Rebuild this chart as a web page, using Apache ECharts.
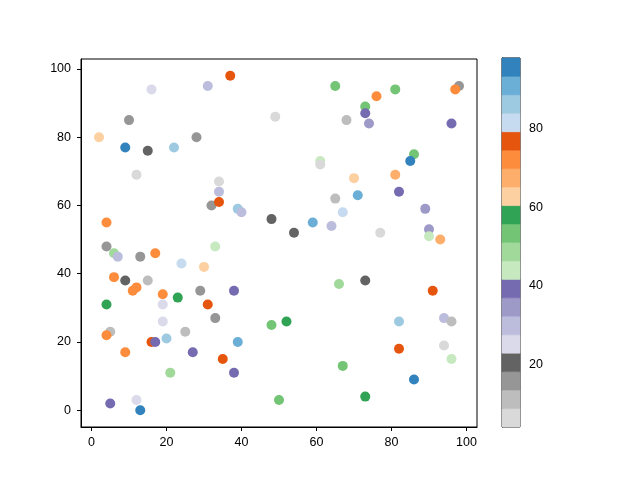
<!DOCTYPE html>
<html>
<head>
<meta charset="utf-8">
<script src="https://cdn.jsdelivr.net/npm/echarts@6/dist/echarts.min.js"></script>
<style>
  html, body { margin: 0; padding: 0; background: #fff; }
  #chart { width: 640px; height: 480px; }
</style>
</head>
<body>
<div id="chart"></div>
<script>
// scatter data: x, y, colour value
const xs = [16, 31, 10, 2, 28, 9, 15, 22, 12, 4, 32, 37, 65, 49, 68, 61, 61, 34, 34, 34,
  39, 40, 48, 54, 59, 64, 67, 65, 33, 81, 76, 73, 73, 74, 98, 97, 96, 86, 85, 70,
  81, 71, 82, 89, 77, 90, 90, 93, 4, 6, 7, 13, 17, 24, 30, 6, 9, 15, 11, 12,
  19, 23, 29, 31, 4, 19, 19, 33, 5, 4, 25, 20, 16, 17, 9, 27, 21, 5, 12, 13,
  38, 66, 48, 52, 39, 35, 38, 50, 67, 73, 91, 82, 94, 96, 82, 94, 96, 86, 73];
const ys = [94, 95, 85, 80, 80, 77, 76, 77, 69, 55, 60, 98, 95, 86, 85, 73, 72, 67, 64, 61,
  59, 58, 56, 52, 55, 54, 58, 62, 48, 94, 92, 89, 87, 84, 95, 94, 84, 75, 73, 68,
  69, 63, 64, 59, 52, 53, 51, 50, 48, 46, 45, 45, 46, 43, 42, 39, 38, 38, 35, 36,
  34, 33, 35, 31, 31, 31, 26, 27, 23, 22, 23, 21, 20, 20, 17, 17, 11, 2, 3, 0,
  35, 37, 25, 26, 20, 15, 11, 3, 13, 38, 35, 26, 27, 26, 18, 19, 15, 9, 4];
const cs = [25, 30, 15, 63, 15, 96, 20, 86, 6, 72, 15, 77, 53, 6, 11, 44, 6, 6, 30, 77,
  86, 30, 20, 20, 91, 30, 81, 11, 44, 53, 72, 53, 39, 34, 15, 72, 39, 53, 96, 63,
  67, 91, 39, 34, 6, 34, 44, 67, 15, 48, 30, 15, 72, 81, 63, 72, 20, 11, 72, 72,
  72, 58, 15, 77, 58, 25, 25, 15, 11, 72, 11, 86, 77, 39, 72, 39, 48, 39, 25, 96,
  39, 48, 53, 58, 91, 77, 39, 53, 53, 20, 77, 86, 30, 11, 77, 6, 44, 96, 58];

const xTicks = [0, 20, 40, 60, 80, 100];
const yTicks = [0, 20, 40, 60, 80, 100];
const cTicks = [20, 40, 60, 80];
const cMin = 4, cMax = 98;

// tab20c reversed
const palette = ['#d9d9d9', '#bdbdbd', '#969696', '#636363',
  '#dadaeb', '#bcbddc', '#9e9ac8', '#756bb1',
  '#c7e9c0', '#a1d99b', '#74c476', '#31a354',
  '#fdd0a2', '#fdae6b', '#fd8d3c', '#e6550d',
  '#c6dbef', '#9ecae1', '#6baed6', '#3182bd'];

const nBands = palette.length;
const bandW = (cMax - cMin) / nBands;
const bands = palette.map((c, i) => [cMin + i * bandW, cMin + (i + 1) * bandW, i]);

function colorFor(v) {
  let i = Math.floor((v - cMin) / bandW);
  i = Math.max(0, Math.min(nBands - 1, i));
  return palette[i];
}

const points = xs.map((x, i) => [x, ys[i], cs[i]]);

const font = 'Liberation Sans';
const black = '#000';
const labelSize = 12.5;

const chart = echarts.init(document.getElementById('chart'));
chart.setOption({
  animation: false,
  textStyle: { fontFamily: font },
  grid: [
    { left: 81, right: 163, top: 59, bottom: 53, show: true, borderColor: black, borderWidth: 1 },
    { left: 502, width: 18, top: 58, bottom: 53, show: true, borderColor: black, borderWidth: 1 }
  ],
  xAxis: [
    {
      type: 'value', gridIndex: 0, min: -2.8, max: 102.8,
      axisLine: { show: true, onZero: false, lineStyle: { color: black } },
      axisTick: { show: true, length: 4, customValues: xTicks, lineStyle: { color: black } },
      axisLabel: { customValues: xTicks, color: black, fontSize: labelSize, margin: 9 },
      splitLine: { show: false }
    },
    { type: 'value', gridIndex: 1, min: 0, max: 1, show: false }
  ],
  yAxis: [
    {
      type: 'value', gridIndex: 0, min: -4.9, max: 102.9,
      axisLine: { show: true, onZero: false, lineStyle: { color: black } },
      axisTick: { show: true, length: 4, customValues: yTicks, lineStyle: { color: black } },
      axisLabel: { customValues: yTicks, color: black, fontSize: labelSize, margin: 10 },
      splitLine: { show: false }
    },
    {
      type: 'value', gridIndex: 1, position: 'right', min: cMin, max: cMax,
      axisLine: { show: true, lineStyle: { color: black } },
      axisTick: { show: true, length: 4, customValues: cTicks, lineStyle: { color: black } },
      axisLabel: { customValues: cTicks, color: black, fontSize: labelSize, margin: 9 },
      splitLine: { show: false }
    }
  ],
  series: [
    {
      type: 'scatter',
      xAxisIndex: 0, yAxisIndex: 0,
      symbolSize: 10,
      data: points,
      itemStyle: { color: p => colorFor(p.value[2]), opacity: 1 }
    },
    {
      type: 'custom',
      xAxisIndex: 1, yAxisIndex: 1,
      data: bands,
      renderItem: (params, api) => {
        const p0 = api.coord([0, api.value(1)]);
        const p1 = api.coord([1, api.value(0)]);
        const c = palette[api.value(2)];
        return {
          type: 'rect',
          shape: { x: p0[0], y: p0[1], width: p1[0] - p0[0], height: p1[1] - p0[1] },
          style: { fill: c, stroke: c, lineWidth: 0.5 }
        };
      }
    }
  ]
});
</script>
</body>
</html>
